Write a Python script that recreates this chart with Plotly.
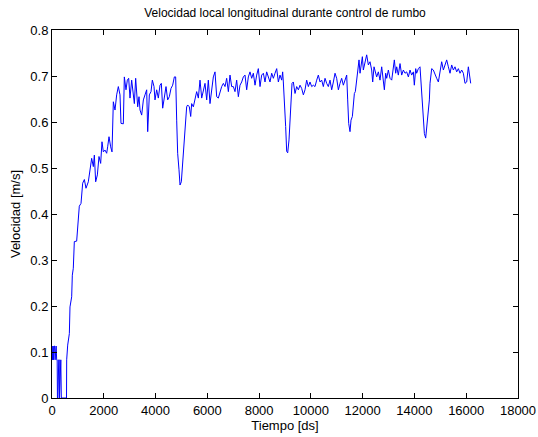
import plotly.graph_objects as go

# Time [ds]
tiempo = [0, 20, 40, 60, 80, 100, 120, 140, 160, 180, 200, 210, 230, 260, 280, 290, 320, 340, 360, 560,
          567, 606, 670, 695, 760, 785, 823, 862, 953, 1017, 1055, 1120,
          1185, 1250, 1313, 1403, 1468, 1532, 1597, 1636, 1687, 1752, 1815, 1880, 1931, 1983, 2047, 2112,
          2150, 2202, 2266, 2318, 2369, 2434, 2498, 2562, 2627, 2665, 2755, 2794, 2858, 2910, 2962, 3013,
          3077, 3142, 3181, 3232, 3271, 3310, 3361, 3400, 3464, 3529, 3592, 3657, 3696, 3760, 3824, 3876,
          3940, 3979, 4043, 4107, 4172, 4223, 4275, 4326, 4404, 4468, 4532, 4597, 4661, 4726, 4777, 4816,
          4854, 4906, 4945, 4996, 5048, 5099, 5150, 5202, 5240, 5305, 5357, 5395, 5460, 5524, 5588, 5653,
          5717, 5782, 5846, 5910, 5975, 6039, 6103, 6168, 6232, 6296, 6361, 6425, 6490, 6554, 6619, 6683,
          6747, 6812, 6876, 6940, 7005, 7069, 7133, 7198, 7262, 7327, 7391, 7455, 7520, 7584, 7649, 7713,
          7777, 7842, 7906, 7970, 8035, 8099, 8164, 8228, 8292, 8357, 8421, 8486, 8550, 8614, 8679, 8743,
          8807, 8872, 8910, 8936, 8975, 9026, 9065, 9104, 9155, 9194, 9232, 9271, 9322, 9387, 9451, 9516,
          9580, 9644, 9709, 9773, 9837, 9902, 9966, 10031, 10095, 10159, 10224, 10288, 10353, 10417, 10481,
          10546, 10610, 10674, 10739, 10803, 10868, 10932, 10996, 11061, 11125, 11189, 11254, 11318, 11383,
          11421, 11460, 11511, 11550, 11602, 11640, 11679, 11717, 11769, 11808, 11859, 11898, 11936, 11988,
          12026, 12091, 12155, 12220, 12284, 12348, 12387, 12439, 12503, 12541, 12606, 12670, 12735, 12799,
          12838, 12889, 12928, 12992, 13056, 13121, 13185, 13224, 13275, 13314, 13378, 13443, 13507, 13571,
          13636, 13700, 13765, 13829, 13893, 13958, 13996, 14048, 14086, 14151, 14215, 14254, 14305, 14344,
          14383, 14434, 14473, 14537, 14576, 14602, 14666, 14730, 14795, 14859, 14924, 14988, 15052, 15117,
          15181, 15245, 15310, 15374, 15439, 15503, 15567, 15632, 15696, 15760, 15825, 15889, 15954, 16018,
          16082, 16121, 16173]

# Velocity [m/s]
velocidad = [0.113, 0.083, 0.113, 0.083, 0.113, 0.113, 0.083, 0.113, 0.113, 0.083, 0.083, 0.0, 0.0, 0.083, 0.083, 0.0, 0.083, 0.083, 0.0, 0.0,
             0.083, 0.115, 0.14, 0.198, 0.22, 0.267, 0.282, 0.34, 0.341, 0.398, 0.417, 0.423,
             0.467, 0.475, 0.456, 0.47, 0.496, 0.521, 0.503, 0.528, 0.47, 0.485, 0.525, 0.51, 0.557, 0.535, 0.539, 0.532,
             0.546, 0.568, 0.546, 0.535, 0.644, 0.626, 0.659, 0.677, 0.659, 0.597, 0.596, 0.698, 0.67, 0.691, 0.695, 0.652,
             0.691, 0.659, 0.64, 0.695, 0.67, 0.633, 0.655, 0.626, 0.615, 0.648, 0.659, 0.67, 0.579, 0.659, 0.666, 0.691,
             0.677, 0.648, 0.67, 0.652, 0.68, 0.684, 0.63, 0.652, 0.677, 0.648, 0.655, 0.673, 0.68, 0.698, 0.698, 0.604,
             0.532, 0.496, 0.463, 0.47, 0.517, 0.546, 0.604, 0.633, 0.637, 0.633, 0.612, 0.64, 0.633, 0.648, 0.666, 0.652,
             0.691, 0.652, 0.67, 0.684, 0.648, 0.691, 0.64, 0.67, 0.698, 0.709, 0.655, 0.652, 0.666, 0.677, 0.684, 0.677,
             0.695, 0.666, 0.702, 0.677, 0.677, 0.666, 0.691, 0.655, 0.68, 0.687, 0.698, 0.702, 0.67, 0.698, 0.709, 0.695,
             0.706, 0.68, 0.702, 0.716, 0.677, 0.702, 0.706, 0.687, 0.709, 0.695, 0.687, 0.706, 0.695, 0.706, 0.716, 0.687,
             0.702, 0.691, 0.709, 0.687, 0.655, 0.59, 0.536, 0.533, 0.561, 0.612, 0.655, 0.684, 0.687, 0.662, 0.677, 0.67,
             0.68, 0.673, 0.659, 0.67, 0.691, 0.677, 0.687, 0.677, 0.68, 0.677, 0.691, 0.702, 0.687, 0.691, 0.677,
             0.695, 0.684, 0.677, 0.691, 0.67, 0.687, 0.706, 0.695, 0.67, 0.684, 0.695, 0.68, 0.691, 0.702,
             0.648, 0.597, 0.579, 0.604, 0.612, 0.637, 0.662, 0.666, 0.695, 0.713, 0.735, 0.706, 0.727, 0.742,
             0.713, 0.727, 0.746, 0.724, 0.731, 0.713, 0.687, 0.72, 0.706, 0.698, 0.709, 0.691, 0.72, 0.695,
             0.67, 0.706, 0.695, 0.713, 0.695, 0.691, 0.716, 0.735, 0.706, 0.72, 0.702, 0.727, 0.702, 0.713,
             0.706, 0.709, 0.698, 0.713, 0.702, 0.709, 0.68, 0.716, 0.706, 0.716, 0.72, 0.687, 0.648, 0.604,
             0.575, 0.565, 0.59, 0.622, 0.648, 0.684, 0.716, 0.713, 0.702, 0.695, 0.687, 0.706, 0.731, 0.713,
             0.724, 0.735, 0.72, 0.706, 0.724, 0.713, 0.72, 0.709, 0.716, 0.706, 0.713, 0.706, 0.684, 0.687,
             0.72, 0.706, 0.684]

x_ticks = [0, 2000, 4000, 6000, 8000, 10000, 12000, 14000, 16000, 18000]
y_ticks = [0, 0.1, 0.2, 0.3, 0.4, 0.5, 0.6, 0.7, 0.8]
y_tick_labels = ["0", "0.1", "0.2", "0.3", "0.4", "0.5", "0.6", "0.7", "0.8"]

titulo = "Velocidad local longitudinal durante control de rumbo"
x_titulo = "Tiempo [ds]"
y_titulo = "Velocidad [m/s]"

fig = go.Figure()
fig.add_trace(go.Scatter(x=tiempo, y=velocidad, mode="lines",
                         line=dict(color="#0000ff", width=1), showlegend=False))

font_family = "Liberation Sans, Arial, Helvetica, sans-serif"
axis_common = dict(showline=True, linecolor="black", linewidth=1, mirror="ticks",
                   ticks="inside", ticklen=5, tickcolor="black", showgrid=False,
                   zeroline=False, automargin=False,
                   tickfont=dict(family=font_family, size=13, color="black"))

fig.update_layout(
    width=538, height=437,
    margin=dict(l=52, r=20, t=30, b=39, autoexpand=False),
    paper_bgcolor="white", plot_bgcolor="white",
    title=dict(text=titulo, x=285 / 538, xanchor="center", y=1 - 13 / 437, yanchor="middle",
               font=dict(family=font_family, size=12, color="black"), automargin=False),
    font=dict(family=font_family, size=13, color="black"),
)
fig.update_xaxes(range=[0, 18000], tickvals=x_ticks, ticktext=[str(v) for v in x_ticks],
                 title=dict(text=x_titulo, standoff=0, font=dict(family=font_family, size=13)),
                 **axis_common)
fig.update_yaxes(range=[0, 0.8], tickvals=y_ticks, ticktext=y_tick_labels,
                 title=dict(text=y_titulo, standoff=6, font=dict(family=font_family, size=13)),
                 **axis_common)

fig.write_html("out.html",
               config={"displayModeBar": False, "staticPlot": True},
               post_script="document.body.style.margin='0';document.body.style.padding='0';")
